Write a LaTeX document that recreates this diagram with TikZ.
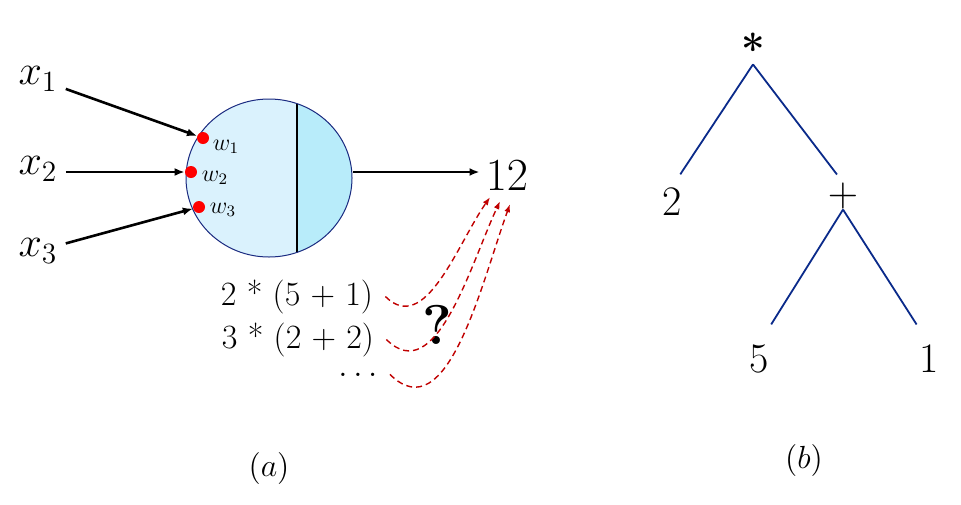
\documentclass[tikz,border=0pt]{standalone}
\usepackage{fix-cm}
\usetikzlibrary{arrows.meta,shapes.geometric,calc}
\definecolor{cellleft}{HTML}{DAF2FD}
\definecolor{cellright}{HTML}{B8ECFA}
\definecolor{cellborder}{HTML}{1A2A80}
\definecolor{treeblue}{HTML}{0A2A8A}
\definecolor{dashred}{HTML}{C00000}
\begin{document}
\begin{tikzpicture}[x=0.5pt,y=-0.5pt,
  inlabel/.style={font=\fontsize{21}{25}\selectfont, inner sep=4pt},
  arr/.style={line width=1.3pt, -{Latex[length=5pt,width=4pt]}},
  wdot/.style={circle, fill=red, minimum size=6pt, inner sep=0pt},
  wlab/.style={font=\fontsize{12}{14}\selectfont, inner sep=0pt},
  guess/.style={dashred, line width=0.7pt, dash pattern=on 3pt off 2pt, -{Latex[length=4pt,width=3pt]}},
  expr/.style={font=\fontsize{17}{20}\selectfont, inner xsep=4pt, inner ysep=1pt, anchor=base},
  tlab/.style={font=\fontsize{21}{25}\selectfont, inner sep=0pt},
  tedge/.style={treeblue, line width=0.9pt},
  caplab/.style={font=\fontsize{16}{19}\selectfont, inner sep=0pt}]
\useasboundingbox (0,0) rectangle (961,504);

% neuron
\node[ellipse, draw=cellborder, line width=0.5pt, fill=cellleft,
  minimum width=83pt, minimum height=79pt, inner sep=0pt,
  path picture={
    \fill[cellright] ([xshift=14pt]path picture bounding box.north) rectangle (path picture bounding box.south east);
    \draw[black, line width=1pt] ([xshift=14pt]path picture bounding box.north) -- ([xshift=14pt]path picture bounding box.south);
  }] (n) at (269,178) {};

% weights
\node[wdot] (d1) at (203,138) {};
\node[wdot] (d2) at (191,172) {};
\node[wdot] (d3) at (199,207) {};
\node[wlab] (w1) at (226,147) {$w_1$};
\node[wlab] (w2) at (215,178) {$w_2$};
\node[wlab] (w3) at (223,210) {$w_3$};

% inputs
\node[inlabel] (x1) at (38,79) {$x_1$};
\node[inlabel] (x2) at (38,169) {$x_2$};
\node[inlabel] (x3) at (38,251) {$x_3$};
\draw[arr] (x1) -- (d1);
\draw[arr] (x2.east |- d2) -- (d2);
\draw[arr] (x3) -- (d3);

% output
\node[font=\fontsize{23}{27}\selectfont, inner sep=3pt] (t) at (507,176) {$12$};
\draw[arr] ([yshift=3pt]n.east) -- ([yshift=2pt]t.west);

% expressions
\node[expr] (e1) at (297,305) {2 * (5 + 1)};
\node[expr] (e2) at (298,348) {3 * (2 + 2)};
\node[expr, inner xsep=2pt] (e3) at (358,376) {$\ldots$};
\node[font=\fontsize{28}{32}\selectfont\bfseries, inner sep=0pt] (q) at (437,325) {?};

\draw[guess] ([xshift=2pt]e1.east) to[out=-45,in=-125] ([xshift=-8.5pt]t.south);
\draw[guess] ([xshift=2pt]e2.east) to[out=-45,in=-115] ([xshift=-3.5pt,yshift=-2pt]t.south);
\draw[guess] ([xshift=4pt]e3.east) to[out=-45,in=-110] ([xshift=1.5pt,yshift=-3.5pt]t.south);

% tree
\node[tlab, anchor=base] (star) at (753,64) {\bfseries *};
\node[tlab, anchor=base] (two) at (672,215) {2};
\node[tlab] (plus) at (843,196) {$+$};
\node[tlab, anchor=base] (five) at (759,372) {5};
\node[tlab, anchor=base] (one) at (929,372) {1};
\draw[tedge, shorten >=7.5pt] (star.south) -- (two.north);
\draw[tedge, shorten >=5pt] (star.south) -- (plus.north);
\draw[tedge, shorten >=11.5pt] (plus.south) -- (five.north);
\draw[tedge, shorten >=11.5pt] (plus.south) -- (one.north);

% captions
\node[caplab] (ca) at (269,468) {$(a)$};
\node[caplab] (cb) at (804,460) {$(b)$};
\end{tikzpicture}
\end{document}
